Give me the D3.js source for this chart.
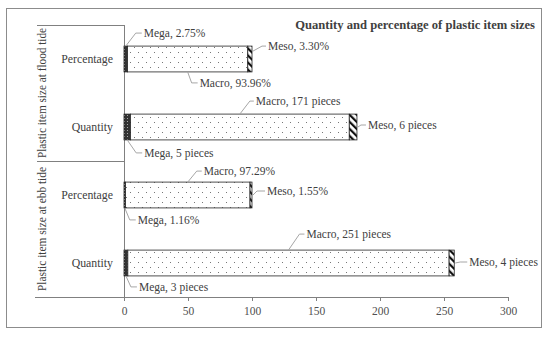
<!DOCTYPE html>
<html>
<head>
<meta charset="utf-8">
<script src="https://cdn.jsdelivr.net/npm/d3@7"></script>
<style>
  body { margin: 0; background: #fff; }
  text { font-family: "Liberation Serif", "DejaVu Serif", serif; fill: #404040; }
</style>
</head>
<body>
<div id="chart"></div>
<script>
// data
const groups = ['Plastic item size at flood tide', 'Plastic item size at ebb tide'];
const categories = ['Percentage', 'Quantity'];
const sizes = ['Mega', 'Macro', 'Meso'];
const floodPercentage = [2.75, 93.96, 3.30];
const floodQuantity = [5, 171, 6];
const ebbPercentage = [1.16, 97.29, 1.55];
const ebbQuantity = [3, 251, 4];
const xTicks = [0, 50, 100, 150, 200, 250, 300];
const title = 'Quantity and percentage of plastic item sizes';

// rows top to bottom
const rows = [
  { id: 'fp', group: 0, cat: categories[0], values: floodPercentage },
  { id: 'fq', group: 0, cat: categories[1], values: floodQuantity },
  { id: 'ep', group: 1, cat: categories[0], values: ebbPercentage },
  { id: 'eq', group: 1, cat: categories[1], values: ebbQuantity }
];

// leader line layout: anchor on segment (x: mid/end, y: top/mid/bottom), elbow offset
const labelLayout = [
  { row: 'fp', size: 'Mega', ax: 'mid', ay: 'top', dx: 10, dy: -13, h: 6 },
  { row: 'fp', size: 'Macro', ax: 'mid', ay: 'bottom', dx: 4, dy: 11, h: 6 },
  { row: 'fp', size: 'Meso', ax: 'end', ay: 'top+', dx: 9, dy: -5, h: 4 },
  { row: 'fq', size: 'Mega', ax: 'mid', ay: 'bottom', dx: 9, dy: 13, h: 6 },
  { row: 'fq', size: 'Macro', ax: 'mid', ay: 'top', dx: 10, dy: -13, h: 4 },
  { row: 'fq', size: 'Meso', ax: 'end', ay: 'mid', dx: 3, dy: -2, h: 5 },
  { row: 'ep', size: 'Mega', ax: 'mid', ay: 'bottom', dx: 5, dy: 12, h: 6 },
  { row: 'ep', size: 'Macro', ax: 'mid', ay: 'top', dx: 9, dy: -11, h: 5 },
  { row: 'ep', size: 'Meso', ax: 'end', ay: 'mid', dx: 4, dy: -4, h: 8 },
  { row: 'eq', size: 'Mega', ax: 'mid', ay: 'bottom', dx: 5, dy: 11, h: 6 },
  { row: 'eq', size: 'Macro', ax: 'mid', ay: 'top', dx: 11, dy: -16, h: 5 },
  { row: 'eq', size: 'Meso', ax: 'end', ay: 'mid', dx: 5, dy: -1, h: 7 }
];

const width = 550;
const height = 337;
const plotLeft = 124, plotRight = 508, plotTop = 25, plotBottom = 297;

const svg = d3.select('#chart').append('svg')
  .attr('width', width)
  .attr('height', height);

// patterns
const defs = svg.append('defs');
const pMacro = defs.append('pattern').attr('id', 'pat-macro')
  .attr('patternUnits', 'userSpaceOnUse').attr('width', 8).attr('height', 10);
pMacro.append('rect').attr('width', 8).attr('height', 10).attr('fill', '#fff');
pMacro.append('rect').attr('x', 2).attr('y', 2).attr('width', 1).attr('height', 1).attr('fill', '#777');
pMacro.append('rect').attr('x', 6).attr('y', 7).attr('width', 1).attr('height', 1).attr('fill', '#777');

const pMega = defs.append('pattern').attr('id', 'pat-mega')
  .attr('patternUnits', 'userSpaceOnUse').attr('width', 3).attr('height', 3);
pMega.append('rect').attr('width', 3).attr('height', 3).attr('fill', '#333');
pMega.append('rect').attr('x', 1).attr('y', 1).attr('width', 1).attr('height', 1).attr('fill', '#aaa');

const pMeso = defs.append('pattern').attr('id', 'pat-meso')
  .attr('patternUnits', 'userSpaceOnUse').attr('width', 5).attr('height', 5)
  .attr('patternTransform', 'rotate(-45)');
pMeso.append('rect').attr('width', 5).attr('height', 5).attr('fill', '#fff');
pMeso.append('rect').attr('width', 2.2).attr('height', 5).attr('fill', '#111');

const fills = { Mega: 'url(#pat-mega)', Macro: 'url(#pat-macro)', Meso: 'url(#pat-meso)' };

// outer frame
svg.append('rect')
  .attr('x', 6.5).attr('y', 8.5)
  .attr('width', 535).attr('height', 319)
  .attr('fill', 'none').attr('stroke', '#8c8c8c');

// scales
const x = d3.scaleLinear().domain([0, 300]).range([plotLeft, plotRight]);
const y = d3.scaleBand().domain(rows.map(d => d.id)).range([plotTop, plotBottom])
  .paddingInner(0.62).paddingOuter(0.31);

// title
svg.append('text')
  .attr('x', 535).attr('y', 29)
  .attr('text-anchor', 'end')
  .style('font-size', '12.6px').style('font-weight', 'bold')
  .text(title);

// x axis
const xAxis = svg.append('g')
  .attr('transform', 'translate(0,' + plotBottom + ')')
  .call(d3.axisBottom(x).tickValues(xTicks).tickSize(4).tickSizeOuter(0));
xAxis.select('.domain').remove();
xAxis.selectAll('line').attr('stroke', '#808080');
xAxis.selectAll('text')
  .attr('y', 10)
  .style('font-size', '11.5px').style('fill', '#505050');
xAxis.attr('font-family', null);

// axis & group lines
const lineColor = '#808080';
svg.append('line').attr('x1', 35).attr('x2', plotRight).attr('y1', plotBottom + 0.5).attr('y2', plotBottom + 0.5)
  .attr('stroke', lineColor);
svg.append('line').attr('x1', plotLeft + 0.5).attr('x2', plotLeft + 0.5).attr('y1', plotTop).attr('y2', plotBottom)
  .attr('stroke', lineColor);
[plotTop, (plotTop + plotBottom) / 2].forEach(yy => {
  svg.append('line').attr('x1', 37).attr('x2', plotLeft).attr('y1', Math.round(yy) + 0.5).attr('y2', Math.round(yy) + 0.5)
    .attr('stroke', lineColor);
});

// group labels (rotated)
const groupLen = [130, 124];
groups.forEach((g, i) => {
  const y0 = plotTop + i * (plotBottom - plotTop) / 2;
  const yc = y0 + (plotBottom - plotTop) / 4;
  svg.append('text')
    .attr('transform', 'translate(46,' + yc + ') rotate(-90)')
    .attr('text-anchor', 'middle')
    .attr('textLength', groupLen[i])
    .attr('lengthAdjust', 'spacingAndGlyphs')
    .style('font-size', '12px')
    .text(g);
});

// category labels
svg.selectAll('.cat').data(rows).enter().append('text')
  .attr('class', 'cat')
  .attr('x', 113)
  .attr('y', d => y(d.id) + y.bandwidth() / 2)
  .attr('dy', '0.35em')
  .attr('text-anchor', 'end')
  .style('font-size', '11.8px')
  .text(d => d.cat);

// stacked segments
const segs = [];
rows.forEach(r => {
  let acc = 0;
  sizes.forEach((s, i) => {
    segs.push({ row: r, size: s, value: r.values[i], x0: acc, x1: acc + r.values[i] });
    acc += r.values[i];
  });
});

svg.selectAll('.seg').data(segs).enter().append('rect')
  .attr('class', 'seg')
  .attr('x', d => x(d.x0))
  .attr('y', d => y(d.row.id))
  .attr('width', d => x(d.x1) - x(d.x0))
  .attr('height', y.bandwidth())
  .attr('fill', d => fills[d.size])
  .attr('stroke', '#222')
  .attr('stroke-width', 0.8);

// data labels with leader lines
const fmtPct = d3.format('.2f');
labelLayout.forEach(l => {
  const seg = segs.find(s => s.row.id === l.row && s.size === l.size);
  const ax = l.ax === 'end' ? x(seg.x1) + 1 : x((seg.x0 + seg.x1) / 2);
  const yTop = y(seg.row.id);
  const ay = l.ay === 'top' ? yTop : l.ay === 'bottom' ? yTop + y.bandwidth()
    : l.ay === 'top+' ? yTop + 5 : yTop + y.bandwidth() / 2;
  const ex = ax + l.dx, ey = ay + l.dy;
  svg.append('polyline')
    .attr('points', [[ax, ay], [ex, ey], [ex + l.h, ey]].map(p => p.join(',')).join(' '))
    .attr('fill', 'none').attr('stroke', '#a6a6a6').attr('stroke-width', 1);
  const txt = seg.row.cat === 'Percentage'
    ? seg.size + ', ' + fmtPct(seg.value) + '%'
    : seg.size + ', ' + seg.value + ' pieces';
  svg.append('text')
    .attr('x', ex + l.h + 2)
    .attr('y', ey)
    .attr('dy', '0.35em')
    .style('font-size', '11.5px')
    .text(txt);
});
</script>
</body>
</html>
